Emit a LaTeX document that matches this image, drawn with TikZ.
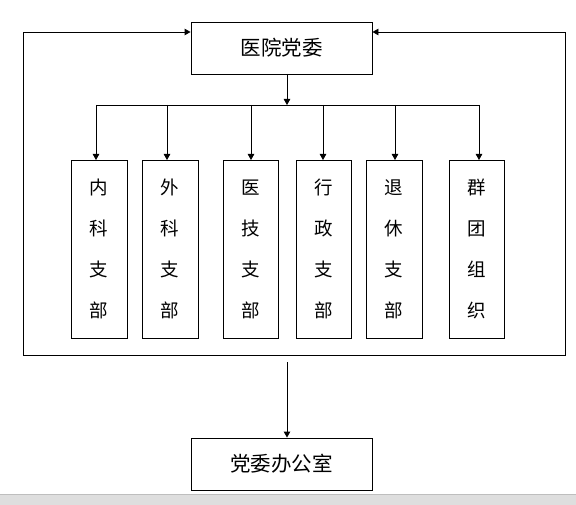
\documentclass[tikz,border=0pt]{standalone}
\usepackage{fontspec}
\newfontfamily\cjk{Noto Sans CJK SC}
\usetikzlibrary{arrows.meta}
\definecolor{bandgray}{RGB}{222,222,222}
\definecolor{bandline}{RGB}{190,190,190}
\begin{document}
\begin{tikzpicture}[x=1pt,y=-1pt,
  line width=0.9pt,
  box/.style={draw, line width=0.9pt, inner sep=0pt},
  colbox/.style={box, minimum width=56pt, minimum height=178pt, align=center,
    font=\cjk\fontsize{18.5}{41}\selectfont},
  arr/.style={-{Triangle[width=6.5pt,length=6pt]}}]
\useasboundingbox (0,0) rectangle (576,505);
\fill[white] (0,0) rectangle (576,505);
% gray band at bottom
\fill[bandgray] (0,494) rectangle (576,505);
\draw[line width=0.8pt,bandline] (0,494) -- (576,494);

\node[box, minimum width=181pt, minimum height=52pt, font=\cjk\fontsize{20.5}{22}\selectfont] (top) at (281.5,48) {医院党委};
\node[colbox] (b1) at (99,249) {内\\科\\支\\部};
\node[colbox] (b2) at (170,249) {外\\科\\支\\部};
\node[colbox, minimum width=55pt] (b3) at (250.5,249) {医\\技\\支\\部};
\node[colbox, minimum width=55pt] (b4) at (323.5,249) {行\\政\\支\\部};
\node[colbox] (b5) at (394,249) {退\\休\\支\\部};
\node[colbox, minimum width=55pt] (b6) at (476.5,249) {群\\团\\组\\织};
\node[box, minimum width=181pt, minimum height=52pt, font=\cjk\fontsize{20.5}{22}\selectfont] (off) at (281.5,464) {党委办公室};

% bus
\coordinate (busL) at (96,105);
\coordinate (busR) at (479,105);
\coordinate (busM) at (287,105);
\draw[arr] (287,74) -- (busM);
\draw (busL) -- (busR);
\foreach \x/\b in {96/b1,167/b2,251/b3,323/b4,395/b5,479/b6}{
  \draw[arr] (\x,105) -- (\x,160);
}
% feedback loop
\coordinate (LT) at (23,32);
\coordinate (LB) at (23,355);
\coordinate (RB) at (565,355);
\coordinate (RT) at (565,32);
\draw[arr] (LB) -- (LT) -- (top.west |- LT);
\draw[arr] (LB) -- (RB) -- (RT) -- (top.east |- RT);
% down to office
\coordinate (ds) at (287,362);
\draw[arr] (ds) -- (off.north -| ds);
\end{tikzpicture}
\end{document}
